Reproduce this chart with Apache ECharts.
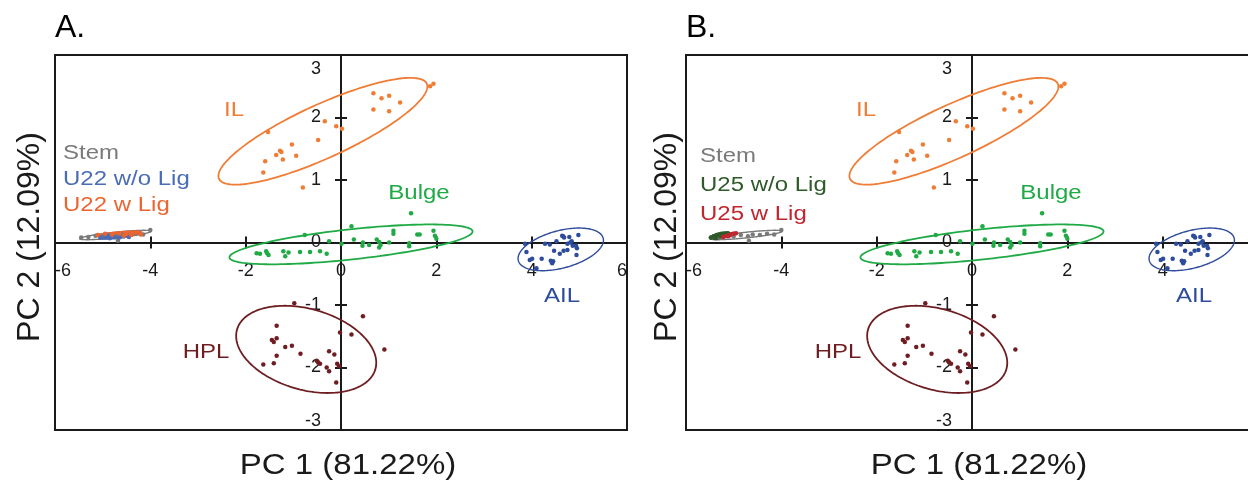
<!DOCTYPE html>
<html>
<head>
<meta charset="utf-8">
<script src="https://cdn.jsdelivr.net/npm/echarts@6/dist/echarts.min.js"></script>
<style>
  html, body { margin: 0; padding: 0; background: #ffffff; }
  #chart { width: 1248px; height: 485px; }
</style>
</head>
<body>
<div id="chart"></div>
<script>
// Axis tick values (PC scores)
const pc1Ticks = [-6, -4, -2, 0, 2, 4, 6];
const pc2Ticks = [-3, -2, -1, 0, 1, 2, 3];

// PCA scores per tissue: [PC 1, PC 2]
const ilScores = [[-1.53,1.77],[-0.34,1.94],[-0.10,1.86],[0.02,1.82],[-0.48,1.64],[-1.03,1.57],[-1.28,1.47],
  [-1.25,1.45],[-1.36,1.40],[-1.22,1.33],[-0.94,1.39],[-1.59,1.30],[-1.63,1.12],[-0.80,0.88],[0.68,2.39],
  [0.85,2.31],[1.01,2.35],[1.24,2.24],[0.68,2.13],[1.01,2.10],[1.87,2.50],[1.94,2.54]];
const bulgeScores = [[-1.77,-0.17],[-1.70,-0.18],[-1.55,-0.17],[-1.52,-0.20],[-1.57,-0.14],[-1.21,-0.14],
  [-1.17,-0.22],[-1.10,-0.16],[-0.86,-0.15],[-0.65,-0.15],[-0.44,-0.14],[-0.30,-0.18],[-0.76,0.12],[-0.25,0.02],
  [0.22,0.26],[0.01,-0.02],[0.27,0.05],[0.46,0.00],[0.45,-0.05],[0.59,-0.04],[0.75,0.05],[0.80,0.01],[0.83,-0.04],
  [0.80,-0.08],[1.01,0.00],[1.10,0.19],[1.10,0.14],[1.43,-0.01],[1.43,-0.06],[1.47,0.47],[1.60,0.13],[1.65,0.13],
  [1.94,0.19],[1.97,0.11],[2.00,0.06]];
const ailScores = [[3.86,-0.02],[3.89,-0.15],[4.01,-0.26],[3.96,-0.28],[4.10,-0.41],[4.21,-0.26],[4.28,-0.02],
  [4.38,-0.03],[4.40,-0.29],[4.43,-0.33],[4.45,-0.30],[4.47,-0.13],[4.52,0.02],[4.59,-0.18],[4.64,0.11],[4.68,0.08],
  [4.66,0.10],[4.75,-0.02],[4.79,0.09],[4.81,0.00],[4.84,0.02],[4.86,-0.05],[4.75,-0.12],[4.93,-0.05],[4.95,-0.09],
  [4.98,0.12],[4.94,-0.20],[4.67,-0.13]];
const hplScores = [[-0.98,-0.97],[-1.35,-1.33],[-1.45,-1.56],[-1.41,-1.59],[-1.35,-1.53],[-1.17,-1.67],[-1.03,-1.65],
  [-0.85,-1.78],[-1.35,-1.81],[-1.63,-1.95],[-1.41,-1.93],[-0.51,-1.89],[-0.44,-1.94],[-0.25,-1.74],[-0.14,-1.79],
  [-0.30,-2.00],[-0.25,-2.06],[-0.08,-1.94],[-0.04,-1.98],[-0.10,-2.24],[-0.02,-1.44],[0.22,-1.47],[0.46,-1.18],
  [0.91,-1.71],[-0.48,-1.92]];
const stemScores = [[-5.45,0.08],[-5.30,0.09],[-5.15,0.11],[-5.00,0.10],[-4.85,0.12],[-4.70,0.10],[-4.60,0.13],
  [-4.45,0.12],[-4.30,0.14],[-4.15,0.13],[-4.00,0.20],[-4.68,0.03]];
const u22NoLigScores = [[-5.05,0.08],[-4.95,0.10],[-4.85,0.07],[-4.75,0.09],[-4.65,0.08],[-4.55,0.10],[-4.45,0.09],[-4.90,0.11]];
const u22LigScores = [[-5.10,0.12],[-4.95,0.14],[-4.80,0.13],[-4.65,0.15],[-4.50,0.14],[-4.40,0.12],[-4.30,0.16],[-4.20,0.13],[-4.55,0.11]];
const u25NoLigScores = [[-5.48,0.08],[-5.42,0.10],[-5.35,0.12],[-5.28,0.10],[-5.20,0.13],[-5.12,0.15],[-5.38,0.07]];
const u25LigScores = [[-5.22,0.09],[-5.15,0.11],[-5.08,0.12],[-5.00,0.14],[-4.95,0.15],[-5.12,0.10]];

// Confidence ellipses: [centre PC1, centre PC2, axis-1 PC1, axis-1 PC2, axis-2 PC1, axis-2 PC2]
const ilEllipse = [-0.38, 1.78, 2.18, 0.76, 0.23, -0.39];
const bulgeEllipse = [0.21, -0.03, 2.55, 0.21, 0.03, -0.24];
const ailEllipse = [4.61, -0.11, 0.89, 0.18, 0.10, -0.29];
const hplEllipse = [-0.73, -1.71, 1.45, -0.32, -0.24, -0.62];
const stemEllipse = [-4.73, 0.12, 0.75, 0.06, 0.004, -0.045];
const u22NoLigEllipse = [-4.75, 0.09, 0.32, 0.02, 0.002, -0.03];
const u22LigEllipse = [-4.65, 0.135, 0.47, 0.03, 0.002, -0.035];
const u25NoLigEllipse = [-5.30, 0.11, 0.20, 0.04, 0.004, -0.045];
const u25LigEllipse = [-5.09, 0.12, 0.15, 0.03, 0.003, -0.03];

const COLORS = {
  il: '#F07D35', bulge: '#1FAA45', ail: '#2E4C9C', hpl: '#6E1E22', stem: '#7A7A7A',
  u22NoLig: '#4A6BB5', u22Lig: '#EC6530', u25NoLig: '#2F5A2A', u25Lig: '#C0262E'
};
const FONT = '"Liberation Sans", Arial, Helvetica, sans-serif';
const INK = '#1a1a1a';
const TICK_FONT = 18;

const panels = [
  { left: 55, label: 'A.',
    groups: [['stem', stemScores, stemEllipse, false], ['u22NoLig', u22NoLigScores, u22NoLigEllipse, true], ['u22Lig', u22LigScores, u22LigEllipse, true]],
    legend: [['Stem', 'stem'], ['U22 w/o Lig', 'u22NoLig'], ['U22 w Lig', 'u22Lig']] },
  { left: 686, label: 'B.',
    groups: [['stem', stemScores, stemEllipse, false], ['u25NoLig', u25NoLigScores, u25NoLigEllipse, true], ['u25Lig', u25LigScores, u25LigEllipse, true]],
    legend: [['Stem', 'stem'], ['U25 w/o Lig', 'u25NoLig'], ['U25 w Lig', 'u25Lig']] }
];
const GRID_W = 572, GRID_TOP = 55, GRID_H = 375;

const xMin = pc1Ticks[0], xMax = pc1Ticks[pc1Ticks.length - 1], xStep = pc1Ticks[1] - pc1Ticks[0];
const yMin = pc2Ticks[0], yMax = pc2Ticks[pc2Ticks.length - 1], yStep = pc2Ticks[1] - pc2Ticks[0];
// Distance from the grid edge to the zero line, used to seat tick labels on the crossing axes
const xLabelShift = -GRID_H * (0 - yMin) / (yMax - yMin);
const yLabelShift = -GRID_W * (0 - xMin) / (xMax - xMin);

function ellipseRenderer(color, lineWidth, filled) {
  return function (params, api) {
    const cx = api.value(0), cy = api.value(1);
    const ux = api.value(2), uy = api.value(3), vx = api.value(4), vy = api.value(5);
    const pts = [];
    const n = 160;
    for (let i = 0; i < n; i++) {
      const t = (i / n) * Math.PI * 2;
      pts.push(api.coord([cx + ux * Math.cos(t) + vx * Math.sin(t), cy + uy * Math.cos(t) + vy * Math.sin(t)]));
    }
    return { type: 'polygon', shape: { points: pts },
      style: { fill: filled ? color : 'none', stroke: color, lineWidth: lineWidth } };
  };
}

const grid = [], xAxis = [], yAxis = [], series = [], graphic = [];
const tickStyle = { show: true, length: 6, lineStyle: { color: INK, width: 2 } };

panels.forEach((p, k) => {
  grid.push({ left: p.left, top: GRID_TOP, width: GRID_W, height: GRID_H, show: true,
    borderColor: INK, borderWidth: 2, backgroundColor: 'transparent', outerBoundsMode: 'none', containLabel: false });
  const xi = k * 3, yi = k * 3;
  const xBase = { type: 'value', gridIndex: k, min: xMin, max: xMax, interval: xStep, splitLine: { show: false } };
  const yBase = { type: 'value', gridIndex: k, min: yMin, max: yMax, interval: yStep, splitLine: { show: false } };
  // Axis lines through the origin, with ticks crossing on both sides
  xAxis.push(Object.assign({}, xBase, {
    position: 'bottom',
    axisLine: { show: true, onZero: true, onZeroAxisIndex: yi, lineStyle: { color: INK, width: 2 } },
    axisTick: tickStyle, axisLabel: { show: false }
  }));
  xAxis.push(Object.assign({}, xBase, {
    position: 'top',
    axisLine: { show: false, onZero: true, onZeroAxisIndex: yi },
    axisTick: tickStyle, axisLabel: { show: false }
  }));
  // Tick labels sitting just below the PC 1 zero line
  xAxis.push(Object.assign({}, xBase, {
    position: 'bottom', offset: xLabelShift,
    axisLine: { show: false, onZero: false }, axisTick: { show: false },
    axisLabel: { show: true, margin: 20, color: INK, fontSize: TICK_FONT, fontFamily: FONT,
      showMinLabel: true, showMaxLabel: true, alignMinLabel: 'left', alignMaxLabel: 'right' }
  }));
  yAxis.push(Object.assign({}, yBase, {
    position: 'left',
    axisLine: { show: true, onZero: true, onZeroAxisIndex: xi, lineStyle: { color: INK, width: 2 } },
    axisTick: tickStyle, axisLabel: { show: false }
  }));
  yAxis.push(Object.assign({}, yBase, {
    position: 'right',
    axisLine: { show: false, onZero: true, onZeroAxisIndex: xi },
    axisTick: tickStyle, axisLabel: { show: false }
  }));
  // Tick labels just left of the PC 2 zero line; the top one drops a little below the frame
  yAxis.push(Object.assign({}, yBase, {
    position: 'left', offset: yLabelShift,
    axisLine: { show: false, onZero: false }, axisTick: { show: false },
    axisLabel: { show: true, margin: 20, color: INK, fontSize: TICK_FONT, fontFamily: FONT,
      showMinLabel: true, showMaxLabel: true, verticalAlignMinLabel: 'bottom', verticalAlignMaxLabel: 'top',
      formatter: (v) => (v === yMax ? '{edge|' + v + '}' : String(v)),
      rich: { edge: { fontSize: TICK_FONT, fontFamily: FONT, color: INK, lineHeight: 28 } } }
  }));

  const tissues = [['il', ilScores, ilEllipse, false], ['bulge', bulgeScores, bulgeEllipse, false],
    ['ail', ailScores, ailEllipse, false], ['hpl', hplScores, hplEllipse, false]].concat(p.groups);

  tissues.forEach(([key, scores, ell, filled]) => {
    const color = COLORS[key];
    const thin = ell[2] < 1;
    series.push({
      type: 'custom', name: key + '-ellipse', xAxisIndex: xi, yAxisIndex: yi,
      renderItem: ellipseRenderer(color, thin ? 1.4 : 1.8, filled),
      dimensions: ['cx', 'cy', 'ux', 'uy', 'vx', 'vy'],
      encode: { x: 0, y: 1 }, data: [ell], silent: true, z: 3
    });
    series.push({
      type: 'scatter', name: key, xAxisIndex: xi, yAxisIndex: yi,
      data: scores, symbolSize: 4.5, itemStyle: { color: color, opacity: 1 }, silent: true, z: 4
    });
  });

  const ox = p.left - 55;
  graphic.push({ type: 'text', x: p.left, y: 28, style: { text: p.label, font: '32px ' + FONT, fill: '#000', verticalAlign: 'middle' } });
  p.legend.forEach(([txt, key], i) => {
    graphic.push({ type: 'text', x: p.left + 8 + (k ? 6 : 0), y: 153 + i * 26 + (k ? 3 * i + 3 : 0), scaleY: 0.88,
      style: { text: txt, font: '24px ' + FONT, fill: COLORS[key], verticalAlign: 'middle' } });
  });
  [['IL', 'il', 234, 110], ['Bulge', 'bulge', 419, 193], ['AIL', 'ail', 562, 296], ['HPL', 'hpl', 206, 352]].forEach(([txt, key, x, y]) => {
    graphic.push({ type: 'text', x: x + ox + (k ? 1 : 0), y: y, scaleY: 0.88,
      style: { text: txt, font: '24px ' + FONT, fill: COLORS[key], align: 'center', verticalAlign: 'middle' } });
  });
  graphic.push({ type: 'text', x: 348 + ox, y: 466, scaleY: 0.88,
    style: { text: 'PC 1 (81.22%)', font: '33px ' + FONT, fill: INK, align: 'center', verticalAlign: 'middle' } });
  graphic.push({ type: 'text', x: 30 + ox + (k ? 6 : 0), y: 237, rotation: Math.PI / 2,
    style: { text: 'PC 2 (12.09%)', font: '32px ' + FONT, fill: INK, align: 'center', verticalAlign: 'middle' } });
});

const chart = echarts.init(document.getElementById('chart'), null, { renderer: 'canvas' });
chart.setOption({
  animation: false,
  backgroundColor: '#ffffff',
  grid: grid, xAxis: xAxis, yAxis: yAxis, series: series, graphic: graphic
});
</script>
</body>
</html>
